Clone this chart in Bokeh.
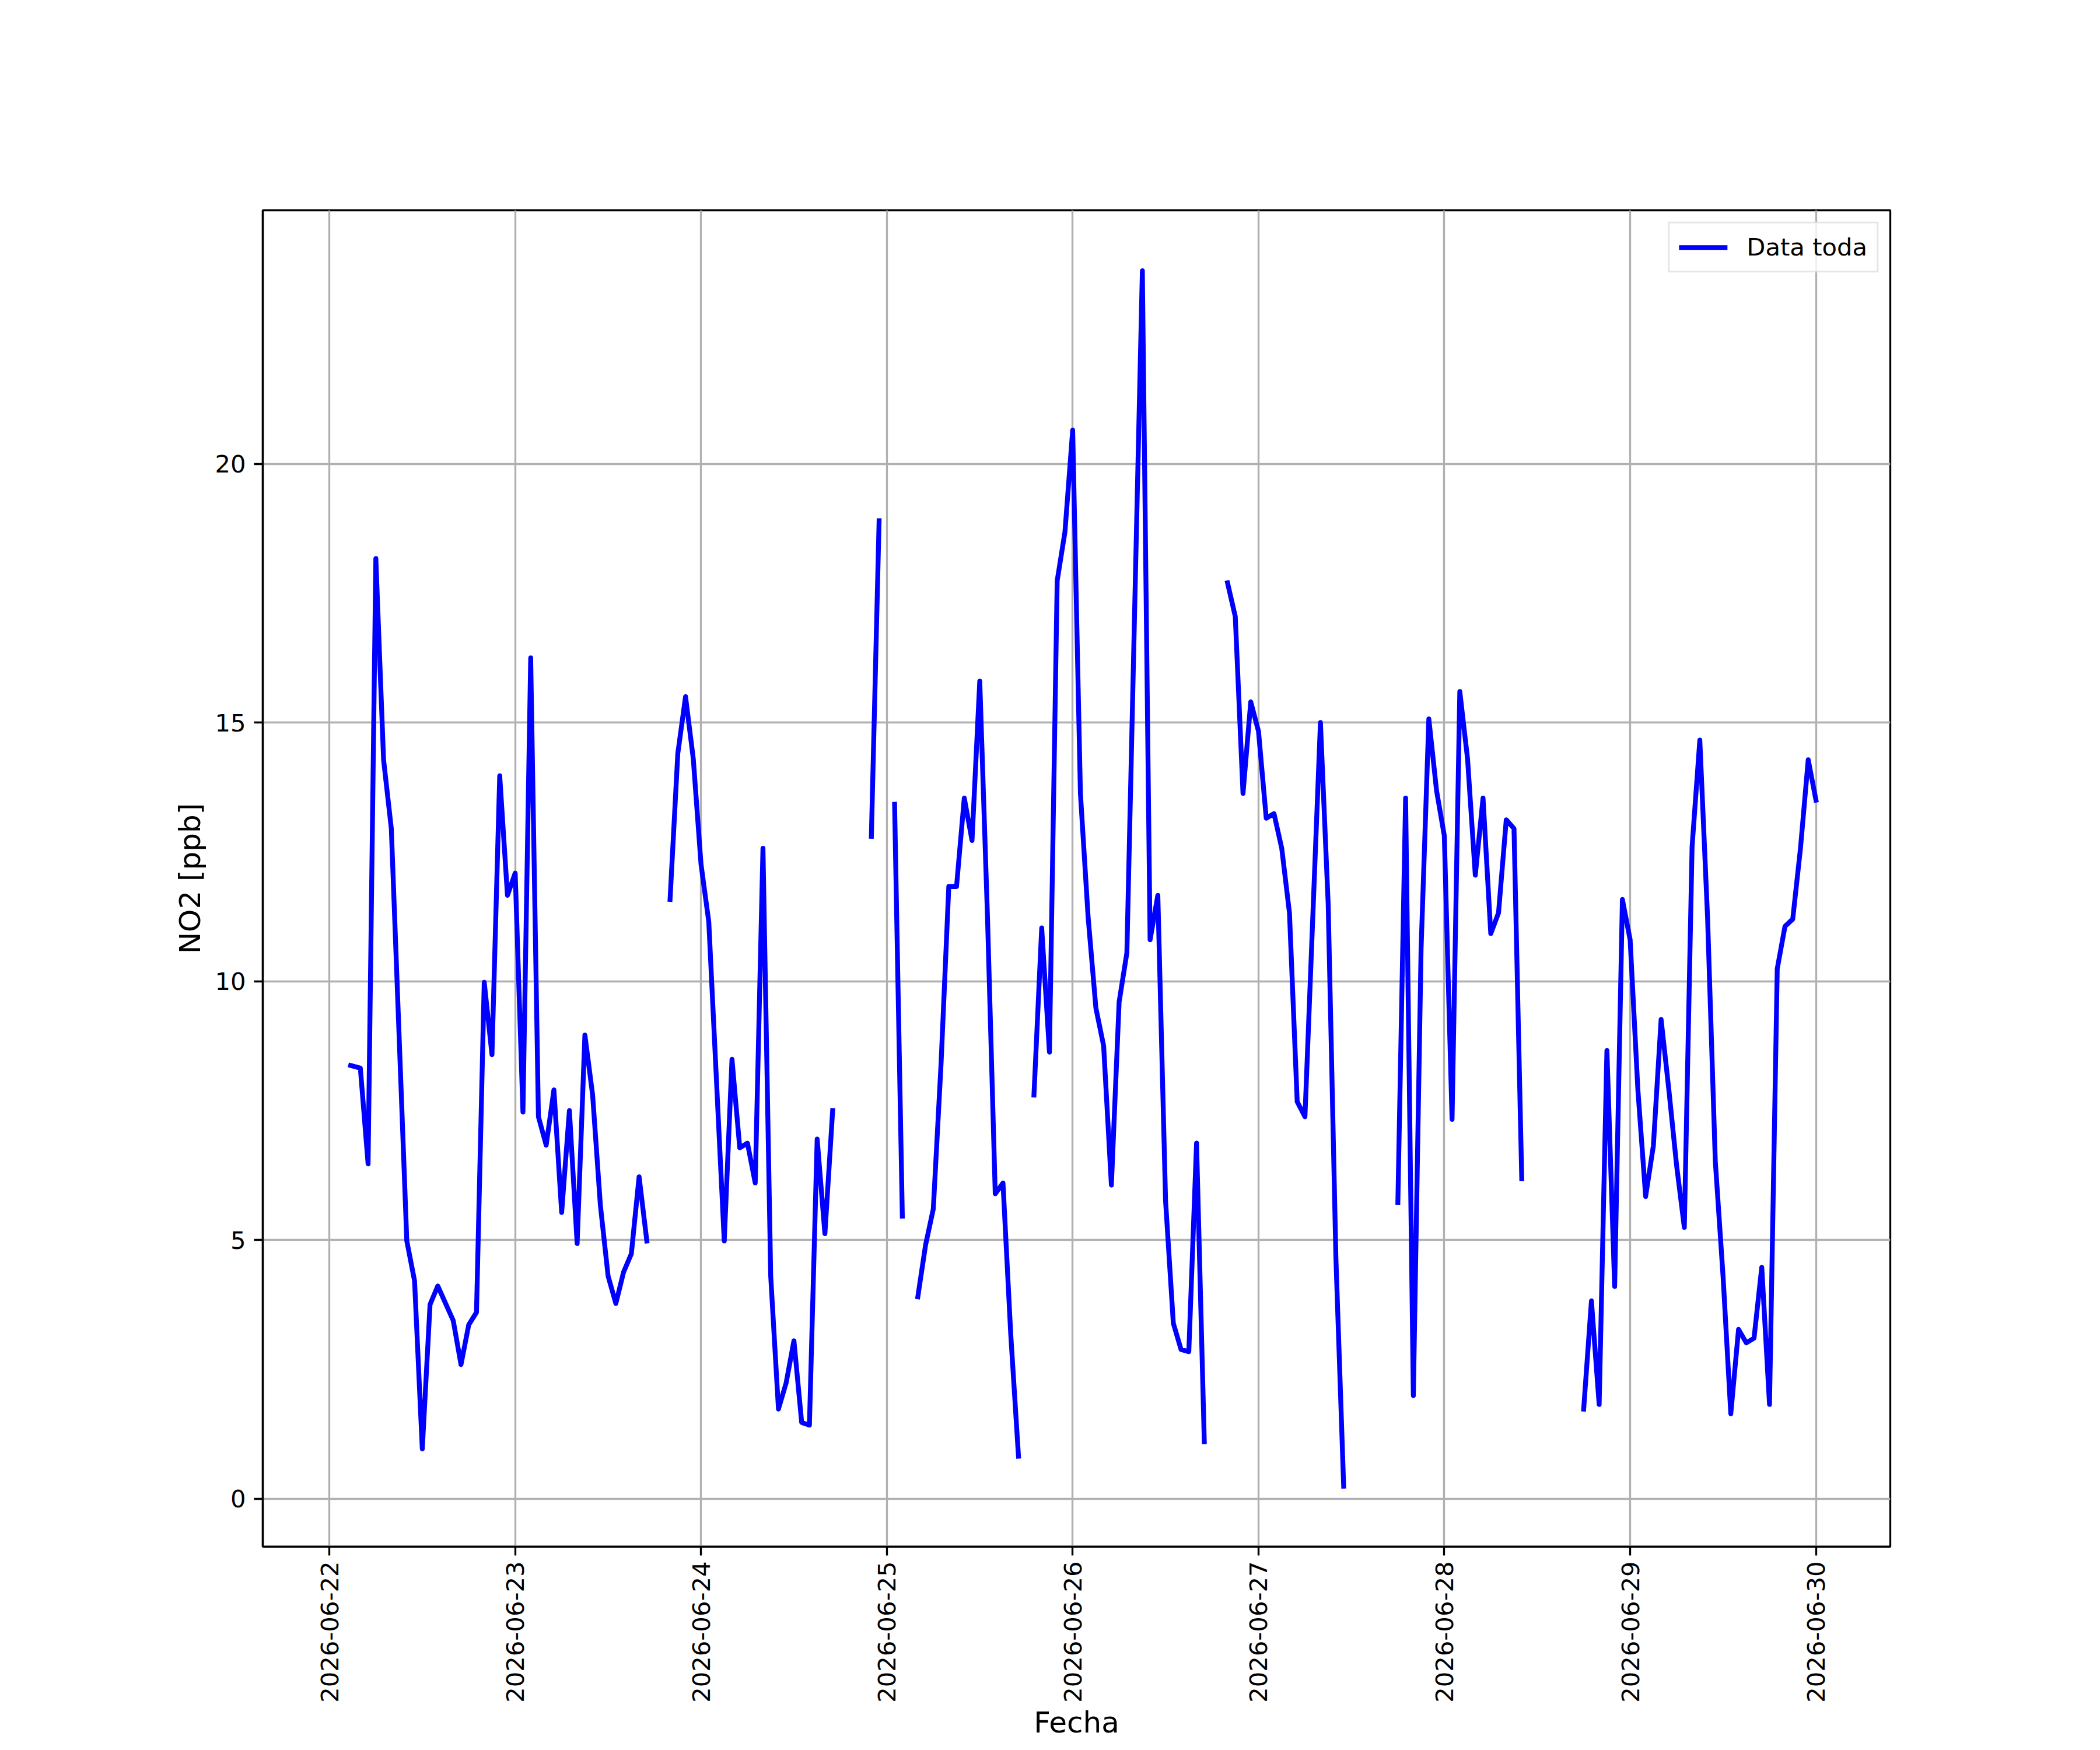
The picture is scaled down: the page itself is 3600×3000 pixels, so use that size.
import math
import numpy as np
import pandas as pd
from bokeh.plotting import figure
from bokeh.models import Range1d, FixedTicker, DatetimeTickFormatter, Legend, LegendItem
from bokeh.embed import file_html
from bokeh.resources import INLINE

# ---------------- data (hours since 2026-06-22 00:00, NO2 in ppb; NaN = gap) ----------------
start_date = "2026-06-22"
hours = [
    2.75, 4, 5, 6, 7, 8, 10, 11, 12, 13, 14, 16, 17, 18, 19, 20, 21, 22, 23,
    24, 25, 26, 27, 28, 29, 30, 31, 32, 33, 34, 35, 36, 37, 38, 39, 40, 41, 42,
    44, 45, 46, 47, 48, 49, 51, 52, 53, 54, 55, 56, 57, 58, 59, 60, 61, 62, 63, 64, 65, 66,
    70, 71, 72,
    73, 74, 75,
    76, 77, 78, 79, 80, 81, 82, 83, 84, 85, 86, 87, 88, 89, 90,
    91, 92, 93, 94, 95, 96, 97, 98, 99, 100, 101, 102, 103, 105, 106, 107, 108, 109, 110, 111, 112, 113, 114,
    116, 117, 118, 119, 120, 121, 122, 123, 124, 125, 126, 128, 129, 130, 131, 132,
    138, 139, 140, 141, 142, 143, 144, 145, 146, 147, 148, 149, 150, 151, 152, 153, 154, 155,
    162, 163, 164, 165, 166, 167, 168, 169, 170, 171, 172, 173, 174, 175, 176, 177, 178, 179,
    180, 181, 182, 183, 184, 185, 186, 187, 188, 189, 190, 191, 192,
]
no2_ppb = [
    8.37, 8.32, 6.47, 18.17, 14.28, 12.95, 4.98, 4.21, 0.96, 3.75, 4.11, 3.44, 2.59, 3.36, 3.60, 9.98, 8.58, 13.97, 11.66,
    12.09, 7.47, 16.25, 7.38, 6.83, 7.90, 5.53, 7.50, 4.93, 8.96, 7.80, 5.67, 4.30, 3.77, 4.38, 4.73, 6.22, 4.98, float("nan"),
    11.58, 14.40, 15.50, 14.30, 12.26, 11.15, 4.98, 8.49, 6.78, 6.87, 6.10, 12.57, 4.30, 1.73, 2.24, 3.05, 1.47, 1.42, 6.95, 5.12, 7.50, float("nan"),
    12.80, 18.90, float("nan"),
    13.42, 5.46, float("nan"),
    3.90, 4.90, 5.60, 8.40, 11.83, 11.83, 13.54, 12.72, 15.80, 11.23, 5.89, 6.10, 3.18, 0.82, float("nan"),
    7.80, 11.03, 8.63, 17.74, 18.68, 20.65, 13.63, 11.23, 9.48, 8.75, 6.06, 9.60, 10.55, 23.73, 10.80, 11.66, 5.75, 3.39, 2.88, 2.84, 6.87, 1.10, float("nan"),
    17.70, 17.05, 13.63, 15.40, 14.83, 13.15, 13.24, 12.57, 11.32, 7.67, 7.38, 15.00, 11.49, 4.64, 0.24, float("nan"),
    5.72, 13.54, 1.99, 10.63, 15.07, 13.68, 12.81, 7.33, 15.60, 14.30, 12.05, 13.54, 10.92, 11.32, 13.12, 12.95, 6.18, float("nan"),
    1.73, 3.82, 1.82, 8.66, 4.10, 11.58, 10.80, 7.90, 5.84, 6.82, 9.26, 7.90, 6.44, 5.24, 12.60, 14.66, 11.23, 6.52,
    4.30, 1.64, 3.27, 3.01, 3.10, 4.47, 1.82, 10.24, 11.06, 11.20, 12.57, 14.28, 13.50,
]
tick_dates = ["2026-06-22", "2026-06-23", "2026-06-24", "2026-06-25", "2026-06-26",
              "2026-06-27", "2026-06-28", "2026-06-29", "2026-06-30"]
y_ticks = [0, 5, 10, 15, 20]
series_label = "Data toda"
x_label = "Fecha"
y_label = "NO2 [ppb]"

# ---------------- geometry / styling ----------------
W, H = 3584, 2984
FL, FR, FT, FB = 450, 3240, 360, 2670          # target frame edges in px
Y0, Y1 = -0.93, 24.9
FONT = "DejaVu Sans"
TICK_FS = "41.7px"
LABEL_FS = "50px"
LW = 3.33

t0 = pd.Timestamp(start_date)
times = t0 + pd.to_timedelta(np.array(hours), unit="h")
vals = np.array(no2_ppb, dtype=float)

x_start = pd.Timestamp(tick_dates[0]) - pd.Timedelta(hours=8.6)
x_end = pd.Timestamp(tick_dates[-1]) + pd.Timedelta(hours=9.6)

p = figure(width=W, height=H, x_axis_type="datetime",
           output_backend="svg", toolbar_location=None,
           x_range=Range1d(x_start, x_end), y_range=Range1d(Y0, Y1),
           min_border_left=FL, min_border_right=W - FR, min_border_top=FT, min_border_bottom=H - FB)
p.background_fill_color = "white"
p.border_fill_color = "white"
p.outline_line_color = "black"
p.outline_line_width = LW

r = p.line(times, vals, line_color="#0000ff", line_width=8.3, line_join="round", line_cap="square")

tick_ms = [pd.Timestamp(d).value / 1e6 for d in tick_dates]
p.xaxis.ticker = FixedTicker(ticks=tick_ms)
fmt = "%Y-%m-%d"
p.xaxis.formatter = DatetimeTickFormatter(milliseconds=fmt, seconds=fmt, minsec=fmt, minutes=fmt,
                                          hourmin=fmt, hours=fmt, days=fmt, months=fmt, years=fmt)
p.xaxis.major_label_orientation = math.pi / 2
p.yaxis.ticker = FixedTicker(ticks=y_ticks)

for ax in (p.xaxis, p.yaxis):
    ax.axis_line_color = "black"
    ax.axis_line_width = LW
    ax.major_tick_line_color = "black"
    ax.major_tick_line_width = LW
    ax.major_tick_out = 15
    ax.major_tick_in = 0
    ax.minor_tick_line_color = None
    ax.major_label_text_font = FONT
    ax.major_label_text_font_size = TICK_FS
    ax.major_label_text_color = "black"
    ax.axis_label_text_font = FONT
    ax.axis_label_text_font_size = LABEL_FS
    ax.axis_label_text_font_style = "normal"
    ax.axis_label_text_color = "black"
    ax.axis_label_text_line_height = 1.0

p.xaxis.major_label_standoff = 10
p.yaxis.major_label_standoff = 14
p.xaxis.axis_label = x_label
p.yaxis.axis_label = y_label
p.xaxis.axis_label_standoff = 2
p.yaxis.axis_label_standoff = 10

for g in (p.xgrid, p.ygrid):
    g.grid_line_color = "#b0b0b0"
    g.grid_line_width = LW
p.xgrid.ticker = FixedTicker(ticks=tick_ms)
p.ygrid.ticker = FixedTicker(ticks=y_ticks)

legend = Legend(items=[LegendItem(label=series_label, renderers=[r])], location="top_right")
legend.margin = 20
legend.padding = 16
legend.glyph_width = 83
legend.glyph_height = 42
legend.label_height = 42
legend.label_standoff = 33
legend.label_text_font = FONT
legend.label_text_font_size = TICK_FS
legend.label_text_color = "black"
legend.label_text_baseline = "middle"
legend.border_line_color = "#cccccc"
legend.border_line_width = LW
legend.background_fill_alpha = 0.8
p.add_layout(legend)

open("out.html", "w").write(file_html(p, INLINE))
